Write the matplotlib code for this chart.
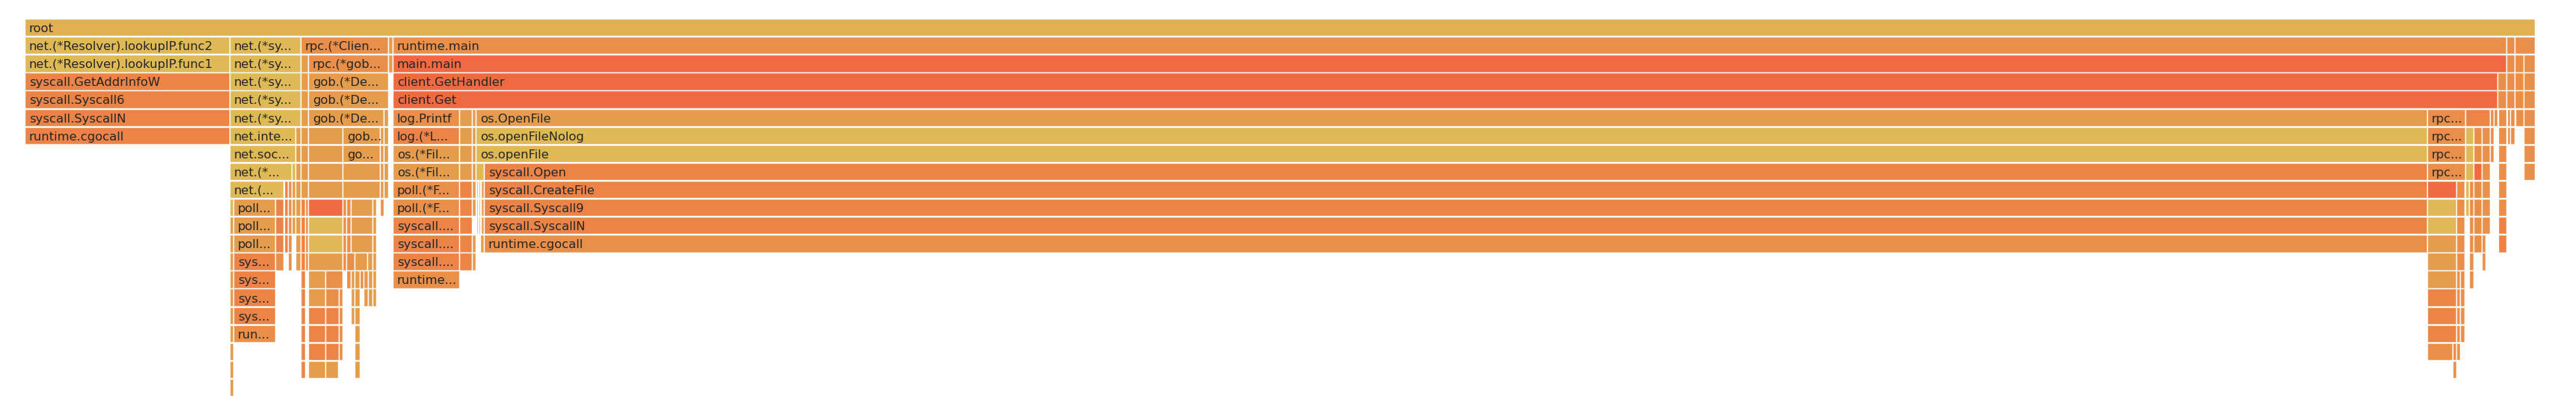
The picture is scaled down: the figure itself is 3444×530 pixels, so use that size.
import matplotlib.pyplot as plt

total_samples = 3356

# frames: (depth, first sample, samples, label, tone)
root_frames = [(0, 0, 3356, "root", "g")]

resolver_frames = [
    (1, 0, 274, "net.(*Resolver).lookupIP.func2", "y"),
    (2, 0, 274, "net.(*Resolver).lookupIP.func1", "y"),
    (3, 0, 274, "syscall.GetAddrInfoW", "o"),
    (4, 0, 274, "syscall.Syscall6", "o"),
    (5, 0, 274, "syscall.SyscallN", "o"),
    (6, 0, 274, "runtime.cgocall", "o"),
]

dial_frames = [
    (1, 274, 95, "net.(*sy...", "y"), (2, 274, 95, "net.(*sy...", "y"),
    (3, 274, 95, "net.(*sy...", "y"), (4, 274, 95, "net.(*sy...", "y"),
    (5, 274, 95, "net.(*sy...", "y"),
    (6, 274, 88, "net.inte...", "y"), (6, 362, 7, "", "t"),
    (7, 274, 88, "net.soc...", "y"), (7, 362, 7, "", "t"),
    (8, 274, 83, "net.(*...", "y"), (8, 357, 5, "", "y"), (8, 362, 7, "", "t"),
    (9, 274, 72, "net.(...", "y"), (9, 347, 5, "", "o"), (9, 352, 5, "", "l"),
    (9, 357, 5, "", "t"), (9, 362, 7, "", "t"),
    (10, 274, 5, "", "y"), (10, 279, 56, "poll...", "t"), (10, 335, 11, "", "o"),
    (10, 347, 5, "", "o"), (10, 352, 5, "", "l"), (10, 357, 5, "", "t"), (10, 362, 7, "", "t"),
    (11, 274, 5, "", "t"), (11, 279, 56, "poll...", "t"), (11, 335, 11, "", "o"),
    (11, 347, 5, "", "o"), (11, 352, 5, "", "l"), (11, 357, 5, "", "t"), (11, 362, 7, "", "t"),
    (12, 274, 5, "", "t"), (12, 279, 56, "poll...", "t"), (12, 335, 11, "", "o"),
    (12, 347, 5, "", "o"), (12, 352, 5, "", "l"), (12, 362, 7, "", "t"),
    (13, 274, 5, "", "t"), (13, 279, 56, "sys...", "o"), (13, 335, 11, "", "l"),
    (13, 352, 5, "", "l"), (13, 362, 7, "", "t"),
    (14, 274, 5, "", "t"), (14, 279, 56, "sys...", "o"),
    (15, 274, 5, "", "t"), (15, 279, 56, "sys...", "o"),
    (16, 274, 5, "", "t"), (16, 279, 56, "sys...", "o"),
    (17, 274, 5, "", "t"), (17, 279, 56, "run...", "l"),
    (18, 274, 5, "", "t"), (19, 274, 5, "", "t"), (20, 274, 5, "", "t"),
]

rpc_frames = [
    (1, 369, 117, "rpc.(*Clien...", "l"), (1, 486, 6, "", "t"),
    (2, 369, 10, "", "t"), (2, 379, 107, "rpc.(*gob...", "l"), (2, 486, 6, "", "t"),
    (3, 369, 10, "", "t"), (3, 379, 107, "gob.(*De...", "t"),
    (4, 369, 10, "", "t"), (4, 379, 107, "gob.(*De...", "t"),
    (5, 369, 10, "", "t"), (5, 379, 101, "gob.(*De...", "t"), (5, 480, 6, "", "t"),
    (6, 369, 10, "", "t"), (6, 379, 46, "", "t"), (6, 425, 50, "gob...", "t"),
    (6, 475, 5, "", "t"), (6, 480, 6, "", "t"),
    (7, 369, 10, "", "t"), (7, 379, 46, "", "t"), (7, 425, 50, "go...", "t"),
    (7, 475, 5, "", "t"), (7, 480, 6, "", "t"),
    (8, 369, 10, "", "t"), (8, 379, 46, "", "t"), (8, 425, 50, "", "t"),
    (8, 475, 5, "", "t"), (8, 480, 6, "", "t"),
    (9, 369, 10, "", "t"), (9, 379, 46, "", "t"), (9, 425, 50, "", "t"),
    (9, 475, 5, "", "t"), (9, 480, 6, "", "t"),
    (10, 369, 6, "", "o"), (10, 375, 4, "", "l"), (10, 379, 46, "", "r"), (10, 425, 5, "", "l"),
    (10, 430, 6, "", "l"), (10, 436, 29, "", "t"), (10, 465, 5, "", "t"), (10, 475, 5, "", "l"),
    (11, 369, 6, "", "o"), (11, 375, 4, "", "l"), (11, 379, 46, "", "y"), (11, 425, 5, "", "l"),
    (11, 430, 6, "", "l"), (11, 436, 29, "", "t"), (11, 465, 5, "", "t"),
    (12, 369, 6, "", "o"), (12, 375, 4, "", "l"), (12, 379, 46, "", "y"), (12, 425, 5, "", "l"),
    (12, 430, 6, "", "l"), (12, 436, 29, "", "t"), (12, 465, 5, "", "t"),
    (13, 369, 6, "", "o"), (13, 375, 4, "", "l"), (13, 379, 46, "", "t"), (13, 425, 5, "", "l"),
    (13, 430, 11, "", "l"), (13, 441, 17, "", "t"), (13, 458, 7, "", "t"), (13, 465, 5, "", "t"),
    (14, 369, 6, "", "o"), (14, 379, 23, "", "t"), (14, 402, 23, "", "l"), (14, 430, 6, "", "l"),
    (14, 436, 5, "", "t"), (14, 441, 7, "", "t"), (14, 448, 5, "", "l"), (14, 453, 6, "", "t"),
    (14, 459, 6, "", "t"), (14, 465, 5, "", "t"),
    (15, 369, 6, "", "o"), (15, 379, 23, "", "t"), (15, 402, 18, "", "l"), (15, 420, 5, "", "l"),
    (15, 436, 5, "", "t"), (15, 441, 7, "", "t"), (15, 453, 6, "", "t"), (15, 459, 6, "", "t"),
    (15, 465, 5, "", "t"),
    (16, 369, 6, "", "o"), (16, 379, 23, "", "o"), (16, 402, 18, "", "o"), (16, 420, 5, "", "l"),
    (16, 436, 5, "", "t"), (16, 441, 7, "", "t"),
    (17, 369, 6, "", "o"), (17, 379, 23, "", "o"), (17, 402, 18, "", "o"), (17, 420, 5, "", "l"),
    (17, 441, 7, "", "t"),
    (18, 369, 6, "", "o"), (18, 379, 23, "", "o"), (18, 402, 18, "", "o"), (18, 420, 5, "", "l"),
    (18, 441, 7, "", "t"),
    (19, 369, 6, "", "o"), (19, 379, 23, "", "t"), (19, 402, 17, "", "t"), (19, 441, 7, "", "t"),
]

main_frames = [
    (1, 492, 2826, "runtime.main", "l"), (1, 3318, 11, "", "l"), (1, 3329, 27, "", "l"),
    (2, 492, 2826, "main.main", "r"), (2, 3318, 11, "", "l"), (2, 3329, 12, "", "l"),
    (2, 3341, 15, "", "l"),
    (3, 492, 2814, "client.GetHandler", "r"), (3, 3306, 12, "", "l"), (3, 3318, 11, "", "l"),
    (3, 3329, 12, "", "l"), (3, 3341, 15, "", "l"),
    (4, 492, 2814, "client.Get", "r"), (4, 3306, 12, "", "l"), (4, 3318, 11, "", "l"),
    (4, 3329, 12, "", "l"), (4, 3341, 15, "", "l"),
    (5, 492, 89, "log.Printf", "l"), (5, 581, 17, "", "t"), (5, 598, 5, "", "t"),
    (5, 603, 2609, "os.OpenFile", "t"), (5, 3212, 51, "rpc...", "l"), (5, 3263, 33, "", "o"),
    (5, 3296, 5, "", "l"), (5, 3301, 5, "", "l"), (5, 3307, 11, "", "l"), (5, 3319, 4, "", "l"),
    (5, 3323, 6, "", "l"), (5, 3330, 11, "", "l"), (5, 3341, 15, "", "l"),
    (6, 492, 89, "log.(*L...", "o"), (6, 581, 17, "", "t"), (6, 598, 5, "", "t"),
    (6, 603, 2609, "os.openFileNolog", "y"), (6, 3212, 51, "rpc...", "l"), (6, 3263, 11, "", "y"),
    (6, 3274, 11, "", "l"), (6, 3285, 11, "", "l"), (6, 3296, 5, "", "l"), (6, 3307, 11, "", "l"),
    (6, 3319, 4, "", "l"), (6, 3323, 6, "", "l"), (6, 3341, 15, "", "l"),
    (7, 492, 89, "os.(*Fil...", "t"), (7, 581, 17, "", "t"), (7, 598, 5, "", "t"),
    (7, 603, 2609, "os.openFile", "y"), (7, 3212, 51, "rpc...", "l"), (7, 3263, 11, "", "y"),
    (7, 3274, 11, "", "l"), (7, 3285, 11, "", "l"), (7, 3296, 5, "", "l"), (7, 3307, 11, "", "l"),
    (7, 3341, 15, "", "l"),
    (8, 492, 89, "os.(*Fil...", "t"), (8, 581, 17, "", "t"), (8, 598, 5, "", "t"),
    (8, 603, 11, "", "y"), (8, 614, 2598, "syscall.Open", "o"), (8, 3212, 51, "rpc...", "l"),
    (8, 3263, 11, "", "y"), (8, 3274, 11, "", "r"), (8, 3285, 11, "", "l"), (8, 3307, 11, "", "l"),
    (8, 3341, 15, "", "l"),
    (9, 492, 89, "poll.(*F...", "l"), (9, 581, 17, "", "o"), (9, 598, 5, "", "t"),
    (9, 604, 2, "", "t"), (9, 607, 2, "", "l"), (9, 610, 4, "", "t"),
    (9, 614, 2598, "syscall.CreateFile", "o"), (9, 3212, 39, "", "r"), (9, 3251, 11, "", "l"),
    (9, 3263, 5, "", "y"), (9, 3268, 6, "", "l"), (9, 3274, 11, "", "l"), (9, 3285, 11, "", "l"),
    (9, 3307, 11, "", "l"),
    (10, 492, 89, "poll.(*F...", "l"), (10, 581, 17, "", "o"), (10, 598, 5, "", "t"),
    (10, 604, 2, "", "t"), (10, 607, 2, "", "l"), (10, 610, 4, "", "t"),
    (10, 614, 2598, "syscall.Syscall9", "o"), (10, 3212, 39, "", "y"), (10, 3251, 11, "", "l"),
    (10, 3263, 5, "", "y"), (10, 3268, 6, "", "l"), (10, 3274, 11, "", "l"), (10, 3285, 11, "", "l"),
    (10, 3307, 11, "", "l"),
    (11, 492, 89, "syscall....", "o"), (11, 581, 17, "", "o"), (11, 604, 2, "", "t"),
    (11, 607, 2, "", "l"), (11, 610, 4, "", "t"),
    (11, 614, 2598, "syscall.SyscallN", "o"), (11, 3212, 39, "", "y"), (11, 3251, 11, "", "l"),
    (11, 3268, 6, "", "l"), (11, 3274, 11, "", "l"), (11, 3285, 11, "", "l"), (11, 3307, 11, "", "o"),
    (12, 492, 89, "syscall....", "o"), (12, 581, 17, "", "o"), (12, 598, 5, "", "t"),
    (12, 609, 5, "", "t"), (12, 614, 2598, "runtime.cgocall", "l"), (12, 3212, 39, "", "t"),
    (12, 3251, 11, "", "l"), (12, 3268, 6, "", "l"), (12, 3274, 11, "", "l"), (12, 3285, 5, "", "l"),
    (12, 3307, 11, "", "o"),
    (13, 492, 89, "syscall....", "o"), (13, 581, 17, "", "o"), (13, 598, 5, "", "t"),
    (13, 3212, 39, "", "t"), (13, 3251, 11, "", "l"), (13, 3268, 6, "", "l"), (13, 3285, 5, "", "l"),
    (14, 492, 89, "runtime...", "l"), (14, 3212, 39, "", "t"), (14, 3251, 5, "", "l"),
    (14, 3256, 6, "", "l"), (14, 3268, 6, "", "l"),
    (15, 3212, 39, "", "o"), (15, 3251, 5, "", "l"), (15, 3256, 6, "", "l"),
    (16, 3212, 39, "", "o"), (16, 3251, 5, "", "l"), (16, 3256, 6, "", "l"),
    (17, 3212, 39, "", "o"), (17, 3251, 5, "", "l"), (17, 3256, 6, "", "l"),
    (18, 3212, 34, "", "l"), (18, 3246, 5, "", "l"), (18, 3251, 5, "", "l"),
    (19, 3246, 5, "", "l"),
]

tones = {
    "g": "#E1B051",
    "y": "#DEB955",
    "t": "#E59D4D",
    "l": "#E98F49",
    "o": "#EB8446",
    "r": "#F06A41",
}

frames = root_frames + resolver_frames + dial_frames + rpc_frames + main_frames
depths = [f[0] for f in frames]
starts = [f[1] for f in frames]
widths = [f[2] for f in frames]
colors = [tones[f[4]] for f in frames]

W, H = 3444, 530
fig = plt.figure(figsize=(W / 100, H / 100), dpi=100)
ax = fig.add_axes([33 / W, 0, total_samples / W, 1])
row_px = 24.1
ax.set_xlim(0, total_samples)
ax.set_ylim((H - 25) / row_px, -25 / row_px)
ax.axis("off")

ax.barh(depths, widths, left=starts, height=0.97, align="edge",
        color=colors, edgecolor="white", linewidth=1.0)

for d, s, n, label, tone in frames:
    if label:
        ax.annotate(label, xy=(s, d + 0.75), xytext=(4.3, 0), textcoords="offset points",
                    ha="left", va="baseline", fontsize=11.8, color="#262626",
                    family="DejaVu Sans")

fig.savefig("out.png", dpi=100)
